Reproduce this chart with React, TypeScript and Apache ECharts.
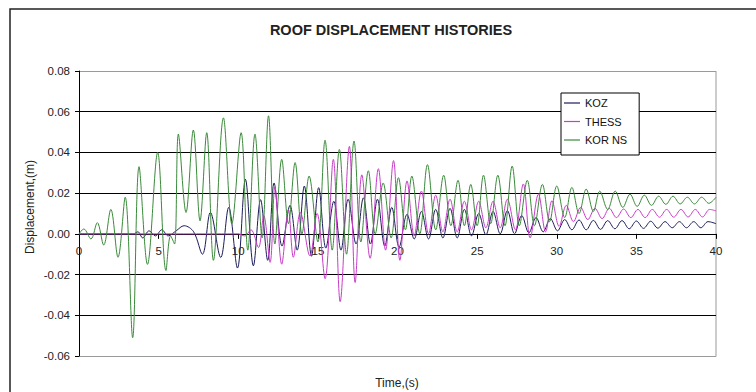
import React, { useEffect, useRef } from "react";
import * as echarts from "echarts";

const TITLE = "ROOF DISPLACEMENT HISTORIES";
const X_TITLE = "Time,(s)";
const Y_TITLE = "Displacement,(m)";
const SERIES_NAMES = ["KOZ", "THESS", "KOR NS"];
const SERIES_COLORS = ["#1c1c5a", "#c83cc8", "#3a8a3a"];

// [time (s), displacement (m)] read at the peaks / troughs of each trace
const kozHistory: number[][] = [
  [0, 0], [3.4, 0], [3.7, 0.001], [4.0, -0.002], [4.4, 0.0015], [4.8, -0.001], [5.2, 0.002],
  [5.6, -0.001], [6.1, 0.0015], [6.6, 0.004], [7.2, 0.001], [7.75, -0.01], [8.25, 0.0105],
  [8.9, -0.0116], [9.4, 0.013], [9.95, -0.0168], [10.45, 0.0268], [10.95, -0.0157], [11.4, 0.0168],
  [11.85, -0.013], [12.25, 0.025], [12.75, -0.006], [13.25, 0.014], [13.7, -0.008], [14.15, 0.0235],
  [14.6, -0.011], [15.05, 0.0227], [15.5, -0.007], [16.0, 0.016], [16.45, -0.008], [16.9, 0.017],
  [17.4, -0.005], [17.86, 0.0177], [18.3, -0.005], [18.74, 0.017], [19.2, -0.006], [19.64, 0.013],
  [20.1, -0.0065], [20.6, 0.0096], [21.05, -0.0025], [21.5, 0.011], [21.95, -0.0025], [22.4, 0.012],
  [22.85, -0.002], [23.3, 0.0125], [23.75, -0.002], [24.2, 0.012], [24.65, -0.001], [25.1, 0.01],
  [25.55, -0.0005], [26.0, 0.011], [26.45, 0.0], [26.9, 0.0115], [27.35, 0.0], [27.8, 0.009],
  [28.25, 0.0005], [28.7, 0.008], [29.15, 0.001], [29.6, 0.0075], [30.05, 0.0015], [30.5, 0.007],
  [30.95, 0.002], [31.4, 0.0068], [31.85, 0.002], [32.3, 0.0066], [32.75, 0.0022], [33.2, 0.0065],
  [33.65, 0.0025], [34.1, 0.0065], [34.55, 0.0025], [35.0, 0.0063], [35.45, 0.0027], [35.9, 0.0062],
  [36.35, 0.0028], [36.8, 0.006], [37.25, 0.003], [37.7, 0.006], [38.15, 0.003], [38.6, 0.006],
  [39.05, 0.003], [39.5, 0.006], [40.0, 0.005],
];

const thessHistory: number[][] = [
  [0, 0], [10.0, 0], [10.4, -0.001], [10.8, 0.002], [11.27, -0.0067], [11.6, 0.009], [12.0, -0.014],
  [12.3, 0.023], [12.73, -0.0149], [13.15, 0.012], [13.46, -0.0115], [13.9, 0.0105], [14.5, -0.0108],
  [14.95, 0.01], [15.45, -0.022], [15.97, 0.0366], [16.4, -0.0333], [16.98, 0.043], [17.34, -0.0239],
  [17.76, 0.029], [18.28, -0.012], [18.8, 0.032], [19.25, -0.008], [19.75, 0.036], [20.15, -0.013],
  [20.6, 0.026], [21.05, -0.001], [21.5, 0.021], [21.95, 0.0], [22.4, 0.019], [22.85, 0.001],
  [23.3, 0.017], [23.75, 0.001], [24.2, 0.016], [24.65, 0.002], [25.1, 0.016], [25.55, 0.003],
  [26.0, 0.016], [26.45, 0.003], [26.9, 0.017], [27.4, 0.002], [27.9, 0.0245], [28.33, -0.002],
  [28.85, 0.0195], [29.3, 0.001], [29.7, 0.0163], [30.15, 0.0037], [30.6, 0.014], [31.05, 0.006],
  [31.5, 0.013], [31.95, 0.007], [32.4, 0.0125], [32.85, 0.0075], [33.3, 0.0125], [33.75, 0.008],
  [34.2, 0.0122], [34.65, 0.008], [35.1, 0.012], [35.55, 0.008], [36.0, 0.012], [36.45, 0.0082],
  [36.9, 0.012], [37.35, 0.0082], [37.8, 0.012], [38.25, 0.0083], [38.7, 0.012], [39.15, 0.0083],
  [39.6, 0.012], [40.0, 0.0113],
];

const korNsHistory: number[][] = [
  [0, 0], [0.3, 0.0024], [0.75, -0.0025], [1.15, 0.0055], [1.55, -0.0055], [2.0, 0.012],
  [2.45, -0.0115], [2.9, 0.018], [3.37, -0.051], [3.77, 0.033], [4.3, -0.015], [4.94, 0.04],
  [5.46, -0.018], [5.75, -0.001], [6.0, -0.005], [6.24, 0.049], [6.72, 0.0105], [7.18, 0.051],
  [7.6, 0.0064], [8.02, 0.0497], [8.44, -0.013], [9.07, 0.057], [9.6, 0.005], [10.18, 0.0497],
  [10.6, -0.008], [11.05, 0.049], [11.5, -0.002], [11.9, 0.058], [12.3, -0.005], [12.73, 0.0366],
  [13.15, 0.005], [13.57, 0.035], [14.0, 0.0], [14.45, 0.0284], [15.0, -0.004], [15.45, 0.046],
  [15.9, -0.008], [16.35, 0.0415], [16.8, -0.01], [17.27, 0.0456], [17.7, -0.004], [18.17, 0.031],
  [18.6, 0.0], [19.1, 0.025], [19.6, -0.002], [20.06, 0.0276], [20.5, 0.002], [20.9, 0.0284],
  [21.4, 0.0], [21.88, 0.034], [22.4, 0.002], [22.9, 0.0288], [23.35, 0.004], [23.8, 0.0263],
  [24.2, 0.004], [24.6, 0.0243], [25.0, 0.004], [25.4, 0.0288], [25.85, 0.005], [26.3, 0.0288],
  [26.75, 0.004], [27.2, 0.0333], [27.65, 0.004], [28.15, 0.0263], [28.6, 0.004], [29.1, 0.0243],
  [29.55, 0.006], [30.0, 0.0235], [30.5, 0.008], [30.95, 0.0228], [31.4, 0.01], [31.85, 0.022],
  [32.3, 0.011], [32.7, 0.021], [33.2, 0.012], [33.67, 0.021], [34.15, 0.013], [34.6, 0.0195],
  [35.05, 0.0135], [35.5, 0.019], [35.95, 0.014], [36.4, 0.0185], [36.85, 0.0145], [37.3, 0.0185],
  [37.75, 0.0147], [38.2, 0.018], [38.65, 0.0147], [39.1, 0.018], [39.55, 0.015], [40.0, 0.018],
];

const X_MIN = 0;
const X_MAX = 40;
const X_STEP = 5;
const Y_MIN = -0.06;
const Y_MAX = 0.08;
const Y_STEP = 0.02;

const FONT = '"Liberation Sans", Arial, sans-serif';

const GRID_TOP = 71;
const GRID_HEIGHT = 285;

export default function App() {
  const ref = useRef<HTMLDivElement>(null);

  useEffect(() => {
    if (!ref.current) return;
    const chart = echarts.init(ref.current, null, { renderer: "svg" });
    const histories = [kozHistory, thessHistory, korNsHistory];
    // place the time axis on the zero displacement line
    const zeroY = GRID_TOP + (GRID_HEIGHT * Y_MAX) / (Y_MAX - Y_MIN);
    const xAxisOffset = zeroY - (GRID_TOP + GRID_HEIGHT);

    chart.setOption({
      animation: false,
      backgroundColor: "#ffffff",
      grid: { left: 79, top: GRID_TOP, width: 637, height: GRID_HEIGHT, containLabel: false },
      xAxis: {
        type: "value",
        min: X_MIN,
        max: X_MAX,
        interval: X_STEP,
        offset: xAxisOffset,
        axisLine: { show: true, onZero: false, lineStyle: { color: "#000", width: 1 } },
        axisTick: { show: true, length: 5, lineStyle: { color: "#000" } },
        axisLabel: { margin: 11, fontSize: 11.5, color: "#222", fontFamily: FONT },
        splitLine: { show: false },
      },
      yAxis: {
        type: "value",
        min: Y_MIN,
        max: Y_MAX,
        interval: Y_STEP,
        axisLine: { show: true, lineStyle: { color: "#000", width: 1 } },
        axisTick: { show: true, length: 4, lineStyle: { color: "#000" } },
        axisLabel: {
          margin: 9,
          fontSize: 11.5,
          color: "#222",
          fontFamily: FONT,
          formatter: (v: number) => v.toFixed(2),
        },
        splitLine: {
          show: true,
          lineStyle: {
            color: ["#9a9a9a", "#000", "#000", "#000", "#000", "#000", "#000", "#9a9a9a"],
            width: 1,
          },
        },
      },
      legend: {
        orient: "vertical",
        left: 561,
        top: 93,
        icon: "rect",
        itemWidth: 16,
        itemHeight: 1.2,
        itemGap: 5.5,
        padding: [3.5, 12, 8.5, 3],
        borderColor: "#000",
        borderWidth: 1,
        backgroundColor: "#fff",
        textStyle: { fontSize: 11, lineHeight: 13, color: "#111", fontFamily: FONT },
        data: SERIES_NAMES,
      },
      graphic: [
        {
          type: "rect",
          silent: true,
          shape: { x: 10, y: 9, width: 800, height: 500 },
          style: { fill: "none", stroke: "#222", lineWidth: 1.5 },
          z: -10,
        },
        {
          type: "line",
          silent: true,
          shape: { x1: 716, y1: 71, x2: 716, y2: 356.5 },
          style: { stroke: "#9a9a9a", lineWidth: 1 },
        },
        {
          type: "text",
          x: 391,
          y: 30,
          style: {
            text: TITLE,
            fill: "#222",
            font: 'bold 14.5px "Liberation Sans Narrow", "Liberation Sans", Arial, sans-serif',
            align: "center",
            verticalAlign: "middle",
          },
        },
        {
          type: "text",
          x: 397,
          y: 383,
          style: {
            text: X_TITLE,
            fill: "#222",
            font: '12px "Liberation Sans", Arial, sans-serif',
            align: "center",
            verticalAlign: "middle",
          },
        },
        {
          type: "text",
          x: 30,
          y: 207,
          rotation: Math.PI / 2,
          style: {
            text: Y_TITLE,
            fill: "#222",
            font: '12px "Liberation Sans", Arial, sans-serif',
            align: "center",
            verticalAlign: "middle",
          },
        },
      ],
      series: SERIES_NAMES.map((name, i) => ({
        name,
        type: "line",
        data: histories[i],
        symbol: "none",
        showSymbol: false,
        smooth: 0.35,
        clip: true,
        color: SERIES_COLORS[i],
        lineStyle: { color: SERIES_COLORS[i], width: 1 },
        z: 2 + i,
      })),
    });

    return () => chart.dispose();
  }, []);

  return (
    <div
      ref={ref}
      style={{ position: "fixed", left: 0, top: 0, width: 756, height: 392, background: "#fff" }}
    />
  );
}
